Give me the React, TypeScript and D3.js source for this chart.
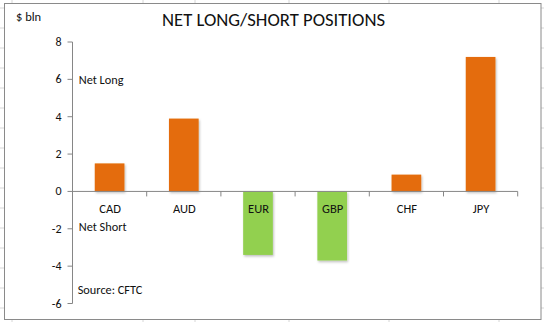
import React from "react";
import * as d3 from "d3";

const categories = ["CAD", "AUD", "EUR", "GBP", "CHF", "JPY"];
const positions = [1.5, 3.9, -3.4, -3.7, 0.9, 7.2];
const yTicks = [-6, -4, -2, 0, 2, 4, 6, 8];
const title = "NET LONG/SHORT POSITIONS";
const unitLabel = "$ bln";
const longLabel = "Net Long";
const shortLabel = "Net Short";
const sourceLabel = "Source: CFTC";

const W = 544;
const H = 322;
const FONT = "Carlito, Lato, 'Open Sans', sans-serif";
const ORANGE = "#E46C0A";
const GREEN = "#92D050";
const AXIS = "#868686";
const SHEET = "#d6d6d6";

const plotLeft = 72.5;
const plotRight = 517.7;
const yTop = 42;
const yBottom = 303.5;

export default function App() {
  const x = d3.scaleBand<string>().domain(categories).range([plotLeft, plotRight]).paddingInner(0.6).paddingOuter(0.3);
  const xOuter = d3.scaleBand<string>().domain(categories).range([plotLeft, plotRight]);
  const y = d3.scaleLinear().domain([-6, 8]).range([yBottom, yTop]);
  const y0 = y(0);

  const sheetCols = [12, 143, 195, 289, 389, 499];
  const sheetRows = d3.range(8, H, 20);

  return (
    <svg width={W} height={H} style={{ position: "fixed", left: 0, top: 0, background: "#fff" }} fontFamily={FONT}>
      <defs>
        <filter id="sh" x="-30%" y="-30%" width="160%" height="160%">
          <feDropShadow dx="1" dy="1.5" stdDeviation="1" floodColor="#000" floodOpacity="0.25" />
        </filter>
      </defs>
      {sheetCols.map((c) => (
        <g key={"c" + c}>
          <line x1={c} x2={c} y1={0} y2={4} stroke={SHEET} />
          <line x1={c} x2={c} y1={320} y2={H} stroke={SHEET} />
        </g>
      ))}
      {sheetRows.map((r) => (
        <g key={"r" + r}>
          <line x1={0} x2={4} y1={r} y2={r} stroke={SHEET} />
          <line x1={541} x2={W} y1={r} y2={r} stroke={SHEET} />
        </g>
      ))}
      <rect x={4.5} y={3.5} width={536.5} height={316} fill="#fff" stroke="#8a8a8a" strokeWidth={1} />

      <text x={273.5} y={26} textAnchor="middle" fontSize={17.5} fill="#111" textLength={223} lengthAdjust="spacingAndGlyphs">
        {title}
      </text>
      <text x={16} y={21} fontSize={12.5} fill="#111">{unitLabel}</text>

      {categories.map((c, i) => {
        const v = positions[i];
        const top = v >= 0 ? y(v) : y0;
        const h = Math.abs(y(v) - y0);
        return (
          <rect key={c} x={x(c)} y={top} width={x.bandwidth()} height={h} fill={v >= 0 ? ORANGE : GREEN} filter="url(#sh)" />
        );
      })}

      <line x1={plotLeft} x2={plotLeft} y1={yTop} y2={yBottom} stroke={AXIS} />
      {yTicks.map((t) => (
        <g key={t}>
          <line x1={plotLeft - 5} x2={plotLeft} y1={y(t)} y2={y(t)} stroke={AXIS} />
          <text x={61.5} y={y(t) + 4} textAnchor="end" fontSize={12} fill="#111">{t}</text>
        </g>
      ))}

      <line x1={plotLeft} x2={plotRight} y1={y0} y2={y0} stroke={AXIS} />
      {categories.map((c) => (
        <line key={"t" + c} x1={(xOuter(c) as number) + xOuter.bandwidth()} x2={(xOuter(c) as number) + xOuter.bandwidth()} y1={y0} y2={y0 + 5} stroke={AXIS} />
      ))}
      {categories.map((c) => (
        <text key={"l" + c} x={(xOuter(c) as number) + xOuter.bandwidth() / 2 + 0.5} y={213} textAnchor="middle" fontSize={12.5} fill="#111">
          {c}
        </text>
      ))}

      <text x={78.7} y={83.5} fontSize={12.3} fill="#111">{longLabel}</text>
      <text x={78.7} y={230.7} fontSize={12.3} fill="#111">{shortLabel}</text>
      <text x={77.7} y={293.5} fontSize={12.3} fill="#111">{sourceLabel}</text>
    </svg>
  );
}
